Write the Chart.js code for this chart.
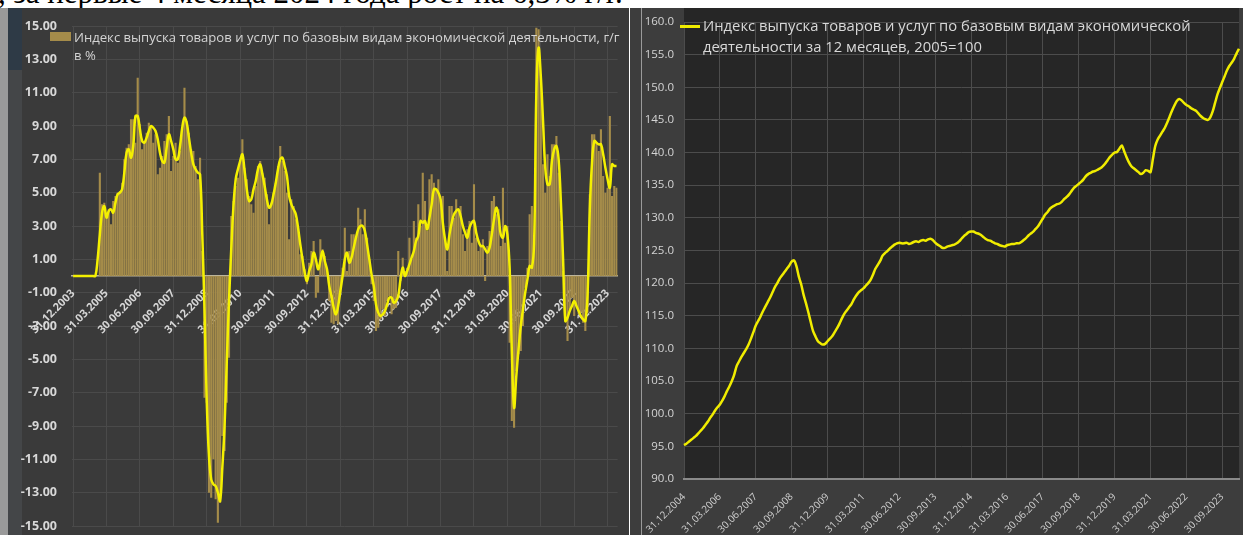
<!DOCTYPE html>
<html>
<head>
<meta charset="utf-8">
<title>Индекс выпуска товаров и услуг</title>
<script src="https://cdn.jsdelivr.net/npm/chart.js@4.4.1/dist/chart.umd.min.js"></script>
<style>
  html, body { margin: 0; padding: 0; background: #fff; }
  body { width: 1243px; height: 535px; position: relative; overflow: hidden; font-family: "Open Sans", sans-serif; }
  #topText { position: absolute; left: -2px; top: -25px; font: 31px "Liberation Serif", serif; color: #000; white-space: nowrap; }
  #leftBg { position: absolute; left: 0; top: 8px; width: 629px; height: 527px; background: #3a3a3a; }
  #leftEdge { position: absolute; left: 0; top: 8px; width: 8px; height: 527px; background: #9a9a9a; }
  #leftStripTop { position: absolute; left: 8px; top: 8px; width: 14px; height: 62px; background: #2e3a46; }
  #leftStrip { position: absolute; left: 8px; top: 70px; width: 14px; height: 465px; background: #444648; }
  #rightBg { position: absolute; left: 630px; top: 8px; width: 613px; height: 527px; background: #3d3d3d; }
  #rightRule { position: absolute; left: 641px; top: 8px; width: 1px; height: 527px; background: #9a9a9a; }
  .box { position: absolute; top: 8px; height: 527px; }
  #leftBox { left: 8px; width: 620px; }
  #rightBox { left: 630px; width: 613px; }
  #leftSwatch { position: absolute; left: 50px; top: 32px; width: 21px; height: 9px; background: #a58c4a; }
  #leftLegend { position: absolute; left: 74px; top: 28px; font-size: 13.1px; line-height: 18px; color: #d4d4d4; white-space: nowrap; }
  #rightSwatch { position: absolute; left: 680px; top: 25px; width: 20px; height: 2.5px; background: #f0ec00; }
  #rightLegend { position: absolute; left: 703px; top: 15px; font-size: 14.8px; line-height: 21px; color: #d8d8d8; white-space: nowrap; }
</style>
</head>
<body>
<div id="topText">, за первые 4 месяца 2024 года рост на 6,3% г/г.</div>
<div id="leftBg"></div>
<div id="leftEdge"></div>
<div id="leftStripTop"></div>
<div id="leftStrip"></div>
<div id="rightBg"></div>
<div id="rightRule"></div>
<div class="box" id="leftBox"><canvas id="leftChart"></canvas></div>
<div class="box" id="rightBox"><canvas id="rightChart"></canvas></div>
<div id="leftSwatch"></div>
<div id="leftLegend">Индекс выпуска товаров и услуг по базовым видам экономической деятельности, г/г<br>в %</div>
<div id="rightSwatch"></div>
<div id="rightLegend">Индекс выпуска товаров и услуг по базовым видам экономической<br>деятельности за 12 месяцев, 2005=100</div>

<script>
// ---- data (monthly, left chart starts Dec 2003, right chart starts Dec 2004) ----
const leftTickLabels = ['31.12.2003', '31.03.2005', '30.06.2006', '30.09.2007', '31.12.2008', '31.03.2010',
  '30.06.2011', '30.09.2012', '31.12.2013', '31.03.2015', '30.06.2016', '30.09.2017', '31.12.2018',
  '31.03.2020', '30.06.2021', '30.09.2022', '31.12.2023'];
const rightTickLabels = ['31.12.2004', '31.03.2006', '30.06.2007', '30.09.2008', '31.12.2009', '31.03.2011',
  '30.06.2012', '30.09.2013', '31.12.2014', '31.03.2016', '30.06.2017', '30.09.2018', '31.12.2019',
  '31.03.2021', '30.06.2022', '30.09.2023'];

// г/г, % (bars)
const yoyBars = [
  null,
  null, null, null, null, null, null, null, null, null, null, null, 6.2,          // 2004
  4.3, 4.4, 3.5, 4.0, 3.1, 4.5, 4.8, 5.0, 5.1, 5.6, 7.0, 7.7,                    // 2005
  7.9, 9.4, 9.4, 8.0, 11.9, 9.1, 7.6, 8.1, 8.6, 9.2, 9.0, 8.0,                   // 2006
  8.5, 6.1, 6.5, 7.2, 8.1, 8.5, 9.6, 6.3, 7.2, 8.0, 6.8, 7.5,                    // 2007
  8.8, 11.3, 9.3, 8.6, 7.6, 7.5, 6.6, 5.8, 7.1, 1.5, -7.3, -7.6,                 // 2008
  -13.0, -13.3, -11.0, -13.4, -14.8, -13.6, -9.6, -10.5, -7.6, -4.9, 3.6, 4.5,   // 2009
  5.4, 5.9, 6.9, 8.2, 6.5, 5.8, 4.8, 4.3, 3.8, 5.4, 6.6, 6.9,                    // 2010
  6.2, 5.9, 4.9, 3.1, 4.4, 5.0, 5.6, 6.6, 7.8, 6.9, 6.3, 5.0,                    // 2011
  2.2, 4.6, 4.2, 3.4, 3.0, 1.3, 1.2, 0.4, -0.5, 0.8, 1.5, 2.1,                   // 2012
  -1.3, -1.0, 2.2, 1.6, 1.2, 0.3, -1.5, -2.8, -2.9, -2.7, -2.9, -1.0,            // 2013
  0.5, 2.9, 0.3, 1.5, 2.5, 2.5, 2.4, 4.1, 3.4, 2.5, 4.0, 2.3,                    // 2014
  1.0, -0.5, -1.5, -3.3, -3.1, -2.6, -2.0, -2.4, -1.5, -1.2, -2.3, -2.0,         // 2015
  -1.9, 1.5, -0.3, 1.1, 0.3, 0.5, 2.3, 1.0, 3.3, 2.3, 4.3, 3.0,                  // 2016
  6.2, 4.5, 2.7, 5.8, 6.1, 5.6, 5.2, 5.8, 4.6, 4.8, 2.3, 0.3,                    // 2017
  4.2, 4.2, 3.5, 4.6, 3.9, 4.2, 2.5, 1.5, 2.8, 3.3, 2.0, 5.5,                    // 2018
  2.3, 1.5, 1.8, 2.2, -0.3, 1.8, 2.7, 4.5, 4.8, 3.7, 4.0, 1.8,                   // 2019
  5.3, 2.0, 3.0, -4.0, -8.7, -9.1, -5.7, -4.7, -4.5, -3.0, -0.7, 0.5,            // 2020
  3.7, 4.2, 2.0, 14.9, 14.8, 12.1, 6.7, 5.0, 7.3, 6.0, 7.9, 7.9,                 // 2021
  8.4, 6.2, 3.3, 0.3, -2.7, -3.9, -2.0, -1.3, -2.4, -1.8, -2.3, -2.2,            // 2022
  -2.8, -3.3, -2.2, 4.9, 8.5, 8.5, 8.0, 7.5, 8.8, 6.0, 5.0, 5.3,                 // 2023
  9.6, 4.8, 5.4, 5.3                                                             // 2024
];

// г/г, % (smoothed line)
const yoyLine = [
  0,
  0, 0, 0, 0, 0, 0, 0, 0, 0, 0, 1.0, 2.5,
  3.8, 4.2, 3.5, 3.9, 4.0, 3.8, 4.4, 4.9, 5.0, 5.2, 6.2, 7.4,
  7.6, 7.1, 7.8, 9.6, 9.6, 8.8, 8.1, 8.0, 8.3, 8.7, 9.0, 8.9,
  8.7, 8.2, 7.4, 6.9, 6.8, 7.7, 8.5, 8.1, 7.6, 7.0, 7.0, 7.8,
  8.9, 9.5, 9.2, 8.3, 7.4, 6.7, 6.4, 6.2, 6.1, 2.5, -2.0, -7.5,
  -10.8, -12.2, -12.5, -12.6, -13.0, -13.5, -11.5, -9.0, -5.1, -1.5, 1.6, 4.2,
  5.8, 6.4, 6.9, 7.3, 6.3, 5.2, 4.5, 4.6, 5.2, 5.7, 6.4, 6.7,
  6.1, 5.4, 4.6, 4.1, 4.3, 4.9, 5.6, 6.4, 7.0, 7.1, 6.6, 6.0,
  4.8, 4.3, 4.0, 3.7, 2.9, 1.9, 1.0, 0.2, -0.3, 0.3, 0.7, 1.4,
  1.0, 0.4, 0.9, 1.5, 0.9, 0.4, -0.6, -1.2, -1.9, -2.3, -1.8, -0.9,
  0, 1.0, 1.4, 0.8, 1.1, 1.7, 2.3, 2.8, 3.0, 3.0, 2.7, 1.9,
  1.0, 0.1, -0.6, -1.7, -2.2, -2.4, -2.3, -2.1, -1.7, -1.3, -1.3, -1.6,
  -1.5, -1.2, -0.2, 0.5, 0, 0.3, 0.7, 1.1, 1.5, 2.1, 2.4, 3.3,
  3.2, 3.3, 2.8, 3.5, 4.3, 5.2, 5.2, 5.0, 4.6, 3.2, 2.2, 1.6,
  2.5, 3.2, 3.7, 3.9, 4.0, 3.6, 3.0, 2.6, 2.3, 2.9, 3.2, 3.3,
  2.6, 2.1, 1.8, 1.8, 1.6, 1.4, 1.7, 2.5, 3.4, 4.1, 3.6, 2.5,
  2.3, 3.0, 2.5, 0.5, -4.5, -7.9, -6.0, -4.4, -3.0, -2.0, -1.0, -0.2,
  0.6, 0.5, 2.0, 11.0, 13.7, 12.0, 9.3, 6.5, 5.5, 5.5, 6.9, 7.6,
  7.8, 7.0, 4.5, 1.0, -2.7, -2.5, -2.1, -1.8, -1.5, -1.8, -2.1, -2.4,
  -2.6, -2.7, -1.1, 4.0, 6.8, 8.1, 8.0, 7.9, 7.9, 7.3, 6.5, 5.8,
  5.3, 6.7, 6.6, 6.6
];

// за 12 месяцев, 2005=100
const index12m = [
  95.2,
  95.4, 95.7, 96.0, 96.3, 96.6, 97.0, 97.4, 97.8, 98.3, 98.8, 99.4, 99.9,
  100.5, 101.0, 101.4, 102.0, 102.7, 103.5, 104.2, 105.0, 106.0, 107.3, 108.0, 108.7,
  109.3, 109.9, 110.6, 111.5, 112.5, 113.5, 114.2, 114.9, 115.7, 116.4, 117.1, 117.8,
  118.6, 119.4, 120.0, 120.7, 121.2, 121.7, 122.2, 122.7, 123.3, 123.5, 122.6, 121.0,
  119.8, 118.2, 116.9, 115.5, 114.0, 112.6, 111.8, 111.1, 110.8, 110.6, 110.7, 111.1,
  111.5, 111.9, 112.5, 113.1, 113.8, 114.6, 115.3, 115.8, 116.3, 116.8, 117.5, 118.1,
  118.6, 118.9, 119.2, 119.6, 120.0, 120.5, 121.3, 122.2, 122.8, 123.4, 124.2, 124.6,
  124.9, 125.3, 125.6, 125.9, 126.1, 126.2, 126.1, 126.1, 126.2, 126.0, 126.1, 126.3,
  126.4, 126.3, 126.5, 126.6, 126.5, 126.7, 126.8, 126.6, 126.2, 125.9, 125.7, 125.4,
  125.4, 125.6, 125.7, 125.8, 125.9, 126.1, 126.4, 126.8, 127.2, 127.5, 127.8, 127.9,
  127.9, 127.7, 127.6, 127.4, 127.1, 126.8, 126.6, 126.5, 126.3, 126.1, 126.0, 125.8,
  125.7, 125.6, 125.8, 125.9, 126.0, 126.0, 126.1, 126.1, 126.3, 126.6, 126.9, 127.3,
  127.6, 127.9, 128.3, 128.7, 129.3, 129.9, 130.5, 130.9, 131.4, 131.7, 131.9, 132.1,
  132.2, 132.5, 132.9, 133.2, 133.6, 134.1, 134.6, 134.9, 135.2, 135.5, 135.9, 136.4,
  136.7, 136.9, 137.1, 137.2, 137.4, 137.6, 137.9, 138.3, 138.8, 139.3, 139.7, 140.0,
  140.1, 140.6, 141.1, 140.2, 139.3, 138.5, 137.9, 137.6, 137.3, 137.0, 136.7, 136.9,
  137.3, 137.2, 137.0, 139.0, 141.0, 142.0, 142.6, 143.2, 143.8, 144.6, 145.5, 146.4,
  147.2, 147.9, 148.2, 148.0, 147.6, 147.3, 147.1, 146.8, 146.6, 146.4, 146.0, 145.6,
  145.3, 145.1, 145.0, 145.4, 146.3, 147.6, 148.9, 149.9, 150.8, 151.7, 152.6, 153.3,
  153.8, 154.4, 155.2, 155.9
];

// month-end dates as category labels
function monthEnds(year, month, count) {
  const out = [];
  for (let k = 0; k < count; k++) {
    const m0 = month - 1 + k;
    const y = year + Math.floor(m0 / 12);
    const m = m0 % 12;
    const d = new Date(Date.UTC(y, m + 1, 0)).getUTCDate();
    out.push(String(d).padStart(2, '0') + '.' + String(m + 1).padStart(2, '0') + '.' + y);
  }
  return out;
}

const leftMonths = monthEnds(2003, 12, yoyBars.length);
const rightMonths = monthEnds(2004, 12, index12m.length);

Chart.defaults.font.family = '"Open Sans", sans-serif';

// dark plot background, runs up to the top edge of the panel
const plotBg = {
  id: 'plotBg',
  beforeDraw(chart) {
    const a = chart.chartArea;
    const ctx = chart.ctx;
    ctx.save();
    ctx.fillStyle = '#262626';
    ctx.fillRect(a.left, 0, a.right - a.left, a.bottom);
    ctx.restore();
  }
};

new Chart(document.getElementById('leftChart'), {
  type: 'bar',
  data: {
    labels: leftMonths,
    datasets: [
      {
        type: 'line',
        data: yoyLine,
        borderColor: '#f4f000',
        borderWidth: 2.5,
        pointRadius: 0,
        tension: 0.4,
        order: 0
      },
      {
        type: 'bar',
        data: yoyBars,
        backgroundColor: '#a58c4a',
        barPercentage: 0.95,
        categoryPercentage: 1,
        order: 1
      }
    ]
  },
  options: {
    responsive: true,
    maintainAspectRatio: false,
    animation: false,
    layout: { padding: { left: 0, right: 3, top: 18, bottom: 9 } },
    plugins: { legend: { display: false }, tooltip: { enabled: false } },
    scales: {
      x: {
        position: { y: 0 },
        grid: { color: '#4a4a4a', offset: false, drawTicks: false },
        border: { color: '#bdb59b', width: 1.5 },
        ticks: {
          autoSkip: false,
          minRotation: 45,
          maxRotation: 45,
          padding: 11,
          color: '#d5d5d5',
          font: { size: 11, weight: 'bold' },
          callback(value) {
            const l = this.getLabelForValue(value);
            return leftTickLabels.includes(l) ? l : null;
          }
        }
      },
      y: {
        min: -15,
        max: 15,
        grid: { color: '#4a4a4a', drawTicks: true, tickLength: 15, tickColor: 'rgba(0,0,0,0)' },
        border: { display: false },
        ticks: {
          stepSize: 2,
          padding: 0,
          color: '#d8d8d8',
          font: { size: 12.5, weight: 'bold' },
          callback: v => v.toFixed(2)
        },
        afterFit(s) { s.width = 64; }
      }
    }
  }
});

new Chart(document.getElementById('rightChart'), {
  type: 'line',
  data: {
    labels: rightMonths,
    datasets: [{
      data: index12m,
      borderColor: '#f0ec00',
      borderWidth: 2.5,
      pointRadius: 0,
      tension: 0.3
    }]
  },
  options: {
    responsive: true,
    maintainAspectRatio: false,
    animation: false,
    layout: { padding: { left: 0, right: 4, top: 14, bottom: 0 } },
    plugins: { legend: { display: false }, tooltip: { enabled: false } },
    scales: {
      x: {
        offset: false,
        grid: { color: '#4c4c4c', drawTicks: false },
        border: { color: '#8a8a8a', width: 2 },
        ticks: {
          autoSkip: false,
          minRotation: 45,
          maxRotation: 45,
          padding: 12,
          color: '#d0d0d0',
          font: { size: 10 },
          callback(value) {
            const l = this.getLabelForValue(value);
            return rightTickLabels.includes(l) ? l : null;
          }
        },
        afterFit(s) { s.height = 56; }
      },
      y: {
        min: 90,
        max: 160,
        grid: { color: '#4c4c4c', drawTicks: true, tickLength: 7, tickColor: 'rgba(0,0,0,0)' },
        border: { display: false },
        ticks: {
          stepSize: 5,
          padding: 3,
          color: '#d4d4d4',
          font: { size: 11.5 },
          callback: v => v.toFixed(1)
        },
        afterFit(s) { s.width = 54; }
      }
    }
  },
  plugins: [plotBg]
});
</script>
</body>
</html>
